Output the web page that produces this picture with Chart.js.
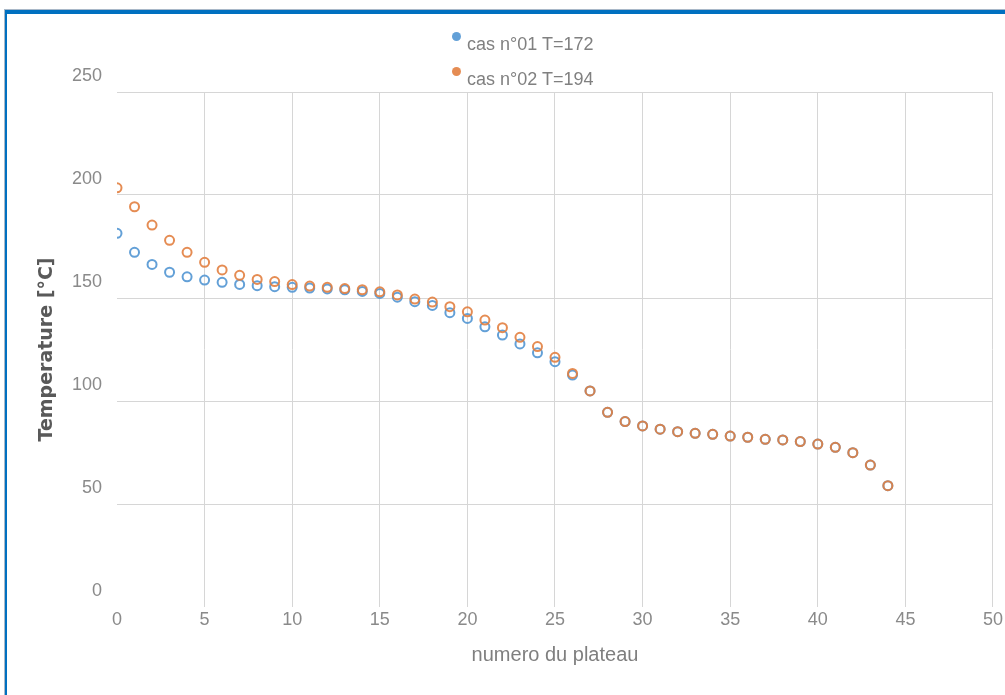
<!DOCTYPE html>
<html>
<head>
<meta charset="utf-8">
<script src="https://cdn.jsdelivr.net/npm/chart.js@4"></script>
<style>
    html, body { margin: 0; padding: 0; background: #fff; overflow: hidden; }
    #frame { position: absolute; left: 4px; top: 9px; width: 1020px; height: 700px; border-top: 1px solid #a9b8c8; border-left: 1px solid #a9b8c8; }
    #frameInner { position: absolute; left: 0; top: 0; right: 0; bottom: 0; border-top: 4px solid #0070c0; border-left: 2px solid #0070c0; }
    #chartBox { position: absolute; left: 0; top: 0; width: 1005px; height: 695px; }
    .legend-item { position: absolute; font-family: 'Liberation Sans', sans-serif; font-size: 18px; color: #808080; white-space: nowrap; }
    .legend-dot { position: absolute; width: 9px; height: 9px; border-radius: 50%; }
</style>
</head>
<body>
<div id="frame"><div id="frameInner"></div></div>
<div id="chartBox">
    <canvas id="chart" width="1005" height="695"></canvas>
</div>
<div id="legend"></div>
<script>
// numero du plateau
const plateaux = [0, 1, 2, 3, 4, 5, 6, 7, 8, 9, 10, 11, 12, 13, 14, 15, 16, 17, 18, 19, 20, 21,
    22, 23, 24, 25, 26, 27, 28, 29, 30, 31, 32, 33, 34, 35, 36, 37, 38, 39, 40, 41, 42, 43, 44];

// cas n°01 T=172
const temperatureCas01 = [181.4, 172.2, 166.3, 162.5, 160.3, 158.7, 157.6, 156.6, 156, 155.5,
    155.2, 154.8, 154.4, 154, 153.2, 152.2, 150.4, 148.2, 146.4, 142.9, 140.1, 136, 132, 127.7,
    123.4, 119.1, 112.6, 104.9, 94.5, 90, 87.9, 86.3, 85.1, 84.3, 83.8, 83, 82.4, 81.4, 81.1,
    80.3, 79.1, 77.5, 74.9, 68.9, 58.9];

// cas n°02 T=194
const temperatureCas02 = [203.5, 194.3, 185.4, 178, 172.2, 167.3, 163.6, 161, 159, 158,
    156.5, 155.8, 155.2, 154.6, 154, 153, 151.5, 149.5, 148, 145.8, 143.3, 139.3, 135.6, 130.9,
    126.4, 121.2, 113.4, 104.9, 94.5, 90, 87.9, 86.3, 85.1, 84.3, 83.8, 83, 82.4, 81.4, 81.1,
    80.3, 79.1, 77.5, 74.9, 68.9, 58.9];

const seriesNames = ['cas n°01 T=172', 'cas n°02 T=194'];
const seriesColors = ['rgba(91, 155, 213, 0.95)', 'rgba(226, 128, 64, 0.9)'];

const xTicks = { min: 0, max: 50, step: 5 };
const yTicks = { min: 0, max: 250, step: 50 };

const axisFont = "'Liberation Sans', sans-serif";
const gridColor = '#d6d6d6';

function toPoints(values) {
    return values.map((v, i) => ({ x: plateaux[i], y: v }));
}

// HTML legend, dot sits up-left of the text like the original
const legendEl = document.getElementById('legend');
seriesNames.forEach((name, i) => {
    const top = 31 + i * 35;
    legendEl.innerHTML += `
        <div class="legend-dot" style="left:452px; top:${top + 1}px; background:${seriesColors[i]}"></div>
        <div class="legend-item" style="left:467px; top:${top + 3}px">${name}</div>`;
});

const ctx = document.getElementById('chart').getContext('2d');
new Chart(ctx, {
    type: 'scatter',
    data: {
        datasets: [
            {
                label: seriesNames[0],
                data: toPoints(temperatureCas01),
                borderColor: seriesColors[0],
                backgroundColor: 'rgba(0,0,0,0)',
                pointRadius: 4.5,
                pointBorderWidth: 2,
                order: 1
            },
            {
                label: seriesNames[1],
                data: toPoints(temperatureCas02),
                borderColor: seriesColors[1],
                backgroundColor: 'rgba(0,0,0,0)',
                pointRadius: 4.5,
                pointBorderWidth: 2,
                order: 0
            }
        ]
    },
    options: {
        responsive: false,
        animation: false,
        devicePixelRatio: 1,
        layout: { padding: { top: 92, right: 7, bottom: 0, left: 0 } },
        plugins: {
            legend: { display: false },
            tooltip: { enabled: false }
        },
        scales: {
            x: {
                type: 'linear',
                min: xTicks.min,
                max: xTicks.max,
                afterFit: scale => { scale.height = 88; },
                border: { display: false },
                grid: {
                    drawTicks: false,
                    color: c => (c.tick && c.tick.value === 0 ? 'rgba(0,0,0,0)' : gridColor)
                },
                ticks: {
                    stepSize: xTicks.step,
                    padding: 2,
                    color: '#8a8a8a',
                    font: { family: axisFont, size: 18 }
                },
                title: {
                    display: true,
                    text: 'numero du plateau',
                    color: '#7f7f7f',
                    font: { family: axisFont, size: 20 },
                    padding: { top: 0, bottom: 28 }
                }
            },
            y: {
                type: 'linear',
                min: yTicks.min,
                max: yTicks.max,
                afterFit: scale => { scale.width = 117; },
                border: { display: false },
                grid: {
                    drawTicks: false,
                    color: c => (c.tick && c.tick.value === 0 ? 'rgba(0,0,0,0)' : gridColor)
                },
                ticks: {
                    stepSize: yTicks.step,
                    padding: 15,
                    labelOffset: -16,
                    color: '#8a8a8a',
                    font: { family: axisFont, size: 18 }
                },
                title: {
                    display: true,
                    text: 'Temperature [°C]',
                    color: '#595959',
                    font: { family: 'DejaVu Sans', size: 19, weight: 'bold' },
                    padding: { top: 36, bottom: 0 }
                }
            }
        }
    }
});
</script>
</body>
</html>
